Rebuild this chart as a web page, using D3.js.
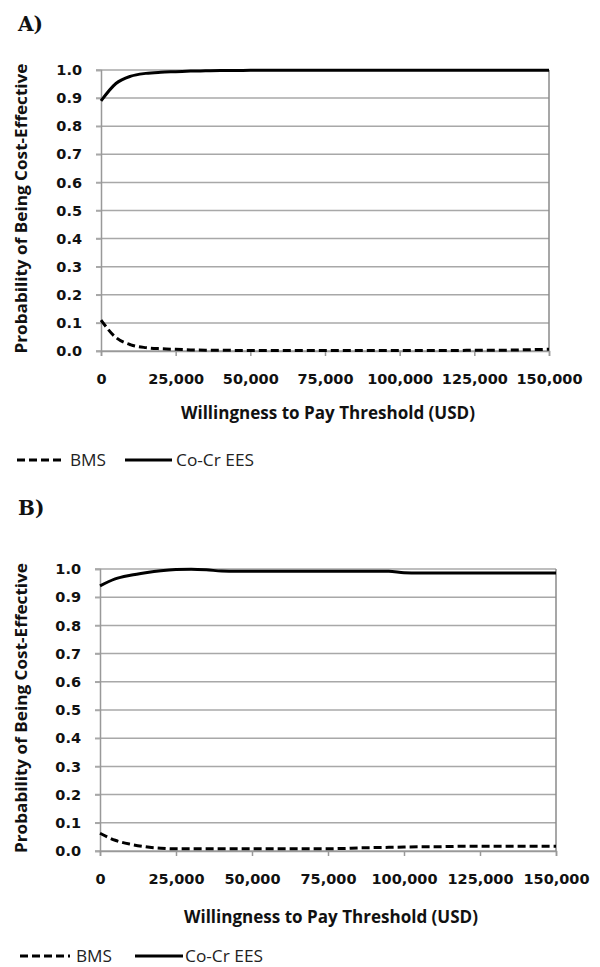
<!DOCTYPE html>
<html><head><meta charset="utf-8">
<script src="https://cdn.jsdelivr.net/npm/d3@7"></script>
<style>body{margin:0;background:#fff}svg{display:block}</style>
</head><body>
<svg id="c" width="600" height="967"></svg>
<script>
const wtp = [0,5000,10000,15000,20000,25000,30000,35000,40000,45000,50000,55000,60000,65000,70000,75000,80000,85000,90000,95000,100000,105000,110000,115000,120000,125000,130000,135000,140000,145000,150000];
const xTicks = [0,25000,50000,75000,100000,125000,150000];
const yTicks = [0,0.1,0.2,0.3,0.4,0.5,0.6,0.7,0.8,0.9,1.0];
const seriesNames = ["BMS","Co-Cr EES"];
const panelLabels = ["A)","B)"];
const xTitle = "Willingness to Pay Threshold (USD)";
const yTitle = "Probability of Being Cost-Effective";

const A_BMS = [0.11,0.048,0.022,0.012,0.008,0.006,0.004,0.003,0.003,0.002,0.002,0.002,0.002,0.002,0.002,0.002,0.002,0.002,0.002,0.002,0.002,0.002,0.002,0.002,0.002,0.003,0.003,0.003,0.004,0.005,0.006];
const A_EES = [0.89,0.952,0.978,0.988,0.992,0.994,0.996,0.997,0.998,0.998,0.999,0.999,0.999,0.999,0.999,0.999,0.999,0.999,0.999,0.999,0.999,0.999,0.999,0.999,0.999,0.999,0.999,0.999,0.999,0.999,0.999];
const B_BMS = [0.063,0.038,0.024,0.015,0.010,0.008,0.008,0.008,0.008,0.008,0.008,0.008,0.008,0.008,0.008,0.008,0.009,0.011,0.012,0.013,0.014,0.015,0.015,0.016,0.017,0.017,0.017,0.017,0.017,0.017,0.017];
const B_EES = [0.940,0.965,0.978,0.987,0.994,0.998,0.999,0.997,0.993,0.992,0.992,0.992,0.992,0.992,0.992,0.992,0.992,0.992,0.992,0.992,0.987,0.986,0.986,0.986,0.986,0.986,0.986,0.986,0.986,0.986,0.986];

const panels = [
  {label:panelLabels[0], bms:A_BMS, ees:A_EES, left:101, right:549, top:70, bottom:351, labelY:24, tickY:379, titleY:413, legY:460, leg:[17,63,70,125,172,176]},
  {label:panelLabels[1], bms:B_BMS, ees:B_EES, left:100, right:556, top:569, bottom:851, labelY:508, tickY:879, titleY:917, legY:956, leg:[20,70,76,135,183,185]}
];

const svg = d3.select("#c");
const tickFont = "'DejaVu Sans', sans-serif";
const textFont = "'Open Sans', sans-serif";

panels.forEach(p => {
  const g = svg.append("g");
  const x = d3.scaleLinear().domain([0,150000]).range([p.left,p.right]);
  const y = d3.scaleLinear().domain([0,1]).range([p.bottom,p.top]);

  g.append("text").attr("x",18).attr("y",p.labelY).attr("dy","0.35em")
    .attr("font-family","'DejaVu Serif', serif").attr("font-weight","bold").attr("font-size",20)
    .attr("fill","#111").text(p.label);

  // gridlines
  g.append("g").selectAll("line").data(yTicks).join("line")
    .attr("x1",p.left-5).attr("x2",p.right).attr("y1",d=>y(d)).attr("y2",d=>y(d))
    .attr("stroke","#a8a8a8").attr("stroke-width",1.5);
  // right border
  g.append("line").attr("x1",p.right).attr("x2",p.right).attr("y1",p.top).attr("y2",p.bottom)
    .attr("stroke","#8a8a8a").attr("stroke-width",1.5);

  // y axis
  const ya = g.append("g").attr("transform",`translate(${p.left},0)`)
    .call(d3.axisLeft(y).tickValues(yTicks).tickFormat(d3.format(".1f")).tickSize(5).tickPadding(14));
  ya.select(".domain").attr("stroke","#999").attr("stroke-width",1.5);
  ya.selectAll(".tick line").attr("stroke","#a8a8a8").attr("stroke-width",1.5);
  ya.selectAll("text").attr("font-family",tickFont).attr("font-weight","bold").attr("font-size",14.5).attr("fill","#111");

  // x axis
  const xa = g.append("g").attr("transform",`translate(0,${p.bottom})`)
    .call(d3.axisBottom(x).tickValues(xTicks).tickFormat(d3.format(",")).tickSize(5).tickPadding(0));
  xa.select(".domain").attr("stroke","#999").attr("stroke-width",1.5);
  xa.selectAll(".tick line").attr("stroke","#999").attr("stroke-width",1.5);
  xa.selectAll("text").attr("y",p.tickY-p.bottom).attr("dy","0.35em")
    .attr("font-family",tickFont).attr("font-weight","bold").attr("font-size",14.5).attr("fill","#111");

  // titles
  g.append("text").attr("x",(p.left+p.right)/2+3).attr("y",p.titleY).attr("dy","0.35em")
    .attr("text-anchor","middle").attr("font-family",textFont).attr("font-weight","bold").attr("font-size",17)
    .attr("textLength",294).attr("lengthAdjust","spacingAndGlyphs")
    .attr("fill","#111").text(xTitle);
  g.append("text").attr("transform",`translate(21,${(p.top+p.bottom)/2 - 2}) rotate(-90)`).attr("dy","0.35em")
    .attr("text-anchor","middle").attr("font-family",textFont).attr("font-weight","bold").attr("font-size",16.5)
    .attr("textLength",290).attr("lengthAdjust","spacingAndGlyphs")
    .attr("fill","#111").text(yTitle);

  // lines
  const line = d3.line().x((d,i)=>x(wtp[i])).y(d=>y(d)).curve(d3.curveMonotoneX);
  g.append("path").datum(p.ees).attr("d",line).attr("fill","none").attr("stroke","#000").attr("stroke-width",3);
  g.append("path").datum(p.bms).attr("d",line).attr("fill","none").attr("stroke","#000").attr("stroke-width",3)
    .attr("stroke-dasharray","8,4");

  // legend
  const L = p.leg;
  g.append("line").attr("x1",L[0]).attr("x2",L[1]).attr("y1",p.legY).attr("y2",p.legY)
    .attr("stroke","#000").attr("stroke-width",3).attr("stroke-dasharray","8,4");
  g.append("text").attr("x",L[2]).attr("y",p.legY).attr("dy","0.35em").attr("font-family",textFont)
    .attr("font-size",16).attr("textLength",36).attr("lengthAdjust","spacingAndGlyphs").attr("fill","#222").text(seriesNames[0]);
  g.append("line").attr("x1",L[3]).attr("x2",L[4]).attr("y1",p.legY).attr("y2",p.legY)
    .attr("stroke","#000").attr("stroke-width",3);
  g.append("text").attr("x",L[5]).attr("y",p.legY).attr("dy","0.35em").attr("font-family",textFont)
    .attr("font-size",16).attr("textLength",78).attr("lengthAdjust","spacingAndGlyphs").attr("fill","#222").text(seriesNames[1]);
});
</script>
</body></html>
